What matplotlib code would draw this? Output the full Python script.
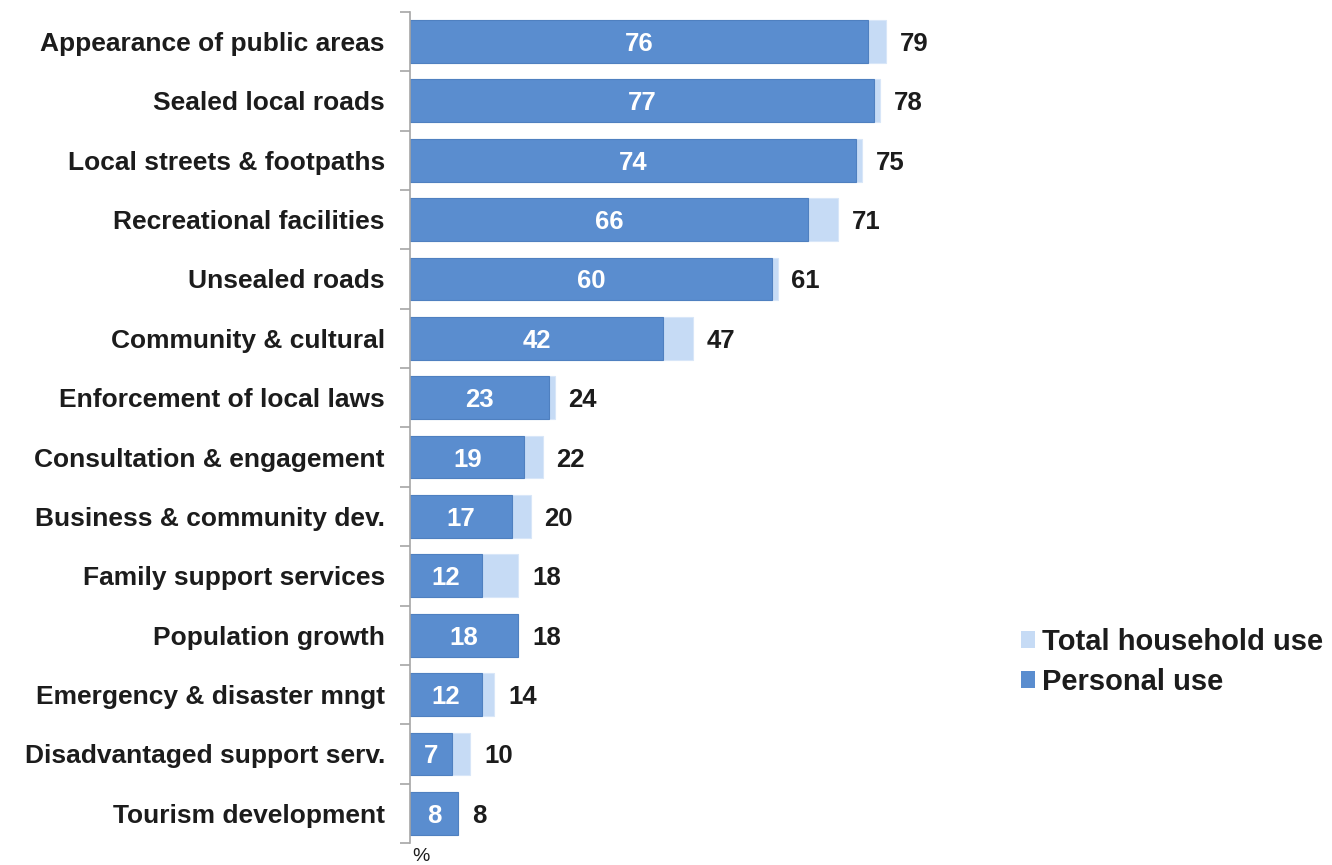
import matplotlib.pyplot as plt
import numpy as np
from matplotlib.patches import Patch
from matplotlib.ticker import FixedLocator

plt.rcParams['font.family'] = ['Liberation Sans', 'DejaVu Sans']

categories = ['Appearance of public areas', 'Sealed local roads', 'Local streets & footpaths',
              'Recreational facilities', 'Unsealed roads', 'Community & cultural',
              'Enforcement of local laws', 'Consultation & engagement', 'Business & community dev.',
              'Family support services', 'Population growth', 'Emergency & disaster mngt',
              'Disadvantaged support serv.', 'Tourism development']
personal = [76, 77, 74, 66, 60, 42, 23, 19, 17, 12, 18, 12, 7, 8]
total = [79, 78, 75, 71, 61, 47, 24, 22, 20, 18, 18, 14, 10, 8]

dark_blue = '#5a8dcf'
light_blue = '#c6dbf5'
text_col = '#1c1c1c'

fig = plt.figure(figsize=(13.32, 8.65), dpi=100)
ax = fig.add_axes([0.3078, 0.0254, 0.6922, 0.961])

y = np.arange(len(categories))
ax.barh(y, total, height=0.72, color=light_blue, edgecolor='#d8e6f8', linewidth=0.8)
ax.barh(y, personal, height=0.72, color=dark_blue, edgecolor='#4f80c0', linewidth=0.8)

for yi, p, t in zip(y, personal, total):
    ax.text(p / 2, yi, str(p), ha='center', va='center_baseline', color='white',
            fontsize=18.5, fontweight='bold')
    ax.text(t + 2.3, yi, str(t), ha='left', va='center_baseline', color=text_col,
            fontsize=18.5, fontweight='bold')

ax.set_ylim(len(categories) - 0.5, -0.5)
ax.set_xlim(0, 153)
ax.set_yticks(y)
ax.set_yticklabels(categories, fontsize=19, fontweight='bold', color=text_col)
ax.yaxis.set_minor_locator(FixedLocator(np.arange(-0.5, len(categories), 1)))
ax.tick_params(axis='y', which='major', length=0, pad=18)
ax.tick_params(axis='y', which='minor', length=7, color='#a6a6a6', width=1.2)
ax.set_xticks([])

for s in ['top', 'right', 'bottom']:
    ax.spines[s].set_visible(False)
ax.spines['left'].set_color('#a6a6a6')
ax.spines['left'].set_linewidth(1.2)

fig.text(0.3095, 0.0, '%', fontsize=14, color=text_col, ha='left', va='bottom')

handles = [Patch(facecolor=light_blue, label='Total household use'),
           Patch(facecolor=dark_blue, label='Personal use')]
leg = fig.legend(handles=handles, loc='center left', bbox_to_anchor=(0.7465, 0.235),
                 frameon=False, prop={'size': 21, 'weight': 'bold'},
                 handlelength=0.5, handleheight=0.5, handletextpad=0.25, labelspacing=0.42)
for t in leg.get_texts():
    t.set_color(text_col)

fig.savefig('out.png', dpi=100)
